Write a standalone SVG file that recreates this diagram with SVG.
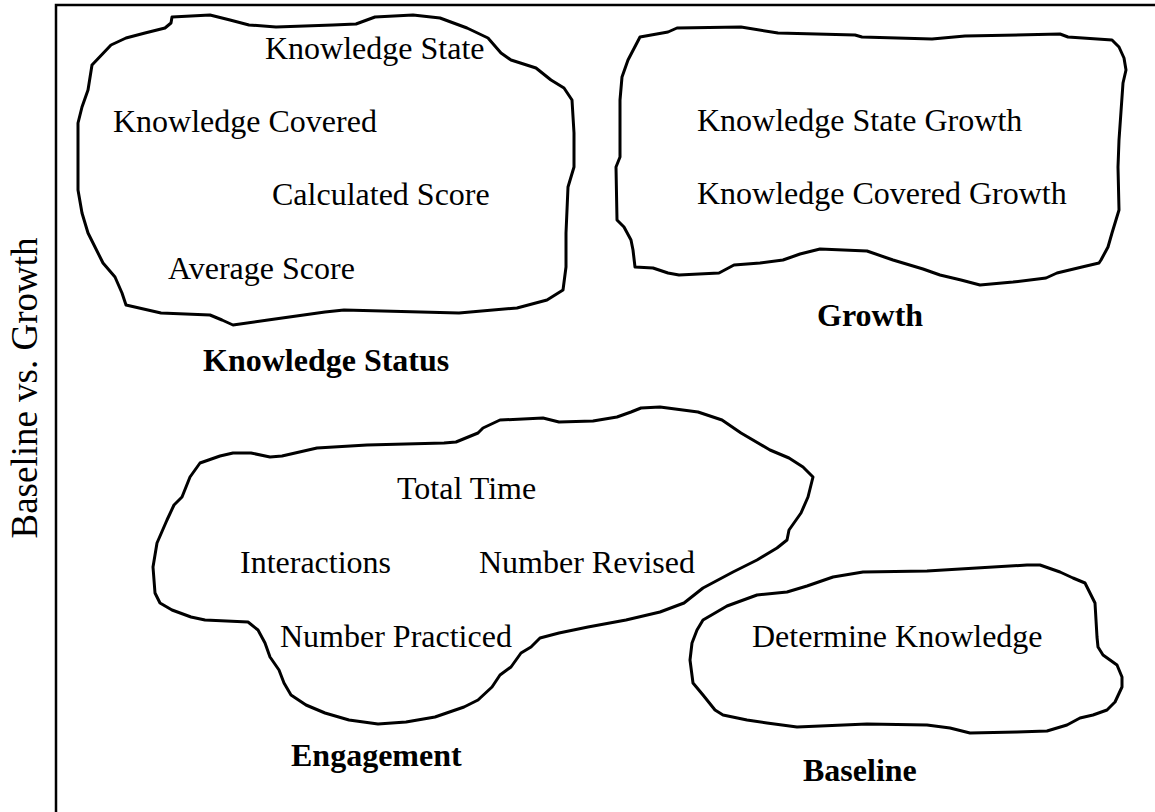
<svg xmlns="http://www.w3.org/2000/svg" width="1155" height="812" viewBox="0 0 1155 812">
<style>
.blob{fill:none;stroke:#000;stroke-width:3;stroke-linejoin:round;stroke-linecap:round}
.t{font-family:"Liberation Serif","Times New Roman",serif;font-size:32px;fill:#000}
.lb{font-family:"Liberation Serif","Times New Roman",serif;font-size:32px;font-weight:bold;fill:#000}
.ax{font-family:"Liberation Serif","Times New Roman",serif;font-size:37px;fill:#000}
</style>
<rect width="1155" height="812" fill="#fff"/>
<g id="frame">
<path d="M56,830 V5 H1170" fill="none" stroke="#000" stroke-width="2.5"/>
<text class="ax" transform="translate(37,388) rotate(-90)" text-anchor="middle">Baseline vs. Growth</text>
</g>
<g id="knowledge-status">
<path class="blob" d="M171,23 L172,17 L210,15 L230,20 L249,25 L276,27 L333,25 L356,24 L375,17 L413,15 L440,18 L467,28 L488,38 L501,53 L511,60 L536,68 L551,80 L564,88 L572,100 L574,133 L574,167 L568,187 L566,233 L566,267 L563,290 L547,300 L517,308 L459,313 L344,310 L325,312 L268,320 L233,325 L222,320 L210,315 L161,313 L126,305 L122,293 L115,277 L103,263 L88,233 L82,213 L78,190 L78,123 L82,107 L88,90 L92,65 L111,45 L126,38 L145,33 L165,28 Z"/>
<text class="t" x="265" y="59">Knowledge State</text>
<text class="t" x="113" y="132">Knowledge Covered</text>
<text class="t" x="272" y="205">Calculated Score</text>
<text class="t" x="168" y="279">Average Score</text>
<text class="lb" x="203" y="371">Knowledge Status</text>
</g>
<g id="growth">
<path class="blob" d="M640,37 L668,32 L677,28 L741,27 L778,33 L855,35 L862,37 L932,39 L965,36 L1060,34 L1068,37 L1112,40 L1119,47 L1124,58 L1126,70 L1123,83 L1119,140 L1118,167 L1119,210 L1112,233 L1108,247 L1101,260 L1099,263 L1082,267 L1057,273 L1046,278 L1013,282 L980,285 L961,280 L940,275 L923,269 L893,260 L867,251 L820,249 L800,254 L783,260 L760,263 L734,265 L719,273 L679,275 L668,273 L653,268 L635,267 L633,250 L631,240 L624,227 L617,220 L616,167 L620,157 L620,100 L622,77 L628,60 Z"/>
<text class="t" x="697" y="131">Knowledge State Growth</text>
<text class="t" x="697" y="204">Knowledge Covered Growth</text>
<text class="lb" x="817" y="326">Growth</text>
</g>
<g id="engagement">
<path class="blob" d="M641,408 L660,407 L698,412 L722,420 L741,433 L770,450 L789,458 L803,467 L813,477 L808,497 L801,513 L789,530 L787,540 L777,548 L757,560 L733,572 L703,588 L684,603 L660,612 L626,620 L588,627 L559,633 L540,638 L531,647 L521,653 L511,667 L500,675 L492,687 L478,700 L464,707 L435,717 L406,722 L378,724 L349,720 L325,713 L306,705 L291,695 L284,683 L279,670 L270,657 L265,643 L258,630 L248,622 L205,620 L191,617 L172,610 L160,603 L155,593 L153,567 L157,543 L167,520 L174,505 L182,497 L190,477 L200,463 L220,456 L233,453 L251,453 L270,457 L282,456 L317,448 L367,445 L444,443 L456,442 L478,433 L483,428 L500,420 L543,418 L559,422 L593,421 L617,417 L631,412 Z"/>
<text class="t" x="397" y="499">Total Time</text>
<text class="t" x="240" y="573">Interactions</text>
<text class="t" x="479" y="573">Number Revised</text>
<text class="t" x="280" y="647">Number Practiced</text>
<text class="lb" x="291" y="766">Engagement</text>
</g>
<g id="baseline">
<path class="blob" d="M703,620 L727,606 L757,595 L787,592 L807,586 L833,577 L863,572 L927,571 L1027,565 L1040,565 L1060,572 L1073,578 L1085,583 L1090,593 L1095,603 L1097,637 L1098,647 L1103,655 L1117,665 L1122,677 L1122,687 L1115,702 L1107,710 L1093,715 L1080,718 L1067,725 L1047,731 L1017,732 L970,733 L950,728 L927,725 L867,724 L797,727 L767,723 L747,720 L723,715 L715,710 L703,695 L693,683 L690,660 L692,643 L697,630 Z"/>
<text class="t" x="752" y="647">Determine Knowledge</text>
<text class="lb" x="803" y="781">Baseline</text>
</g>
<g id="connectors"></g>
</svg>
